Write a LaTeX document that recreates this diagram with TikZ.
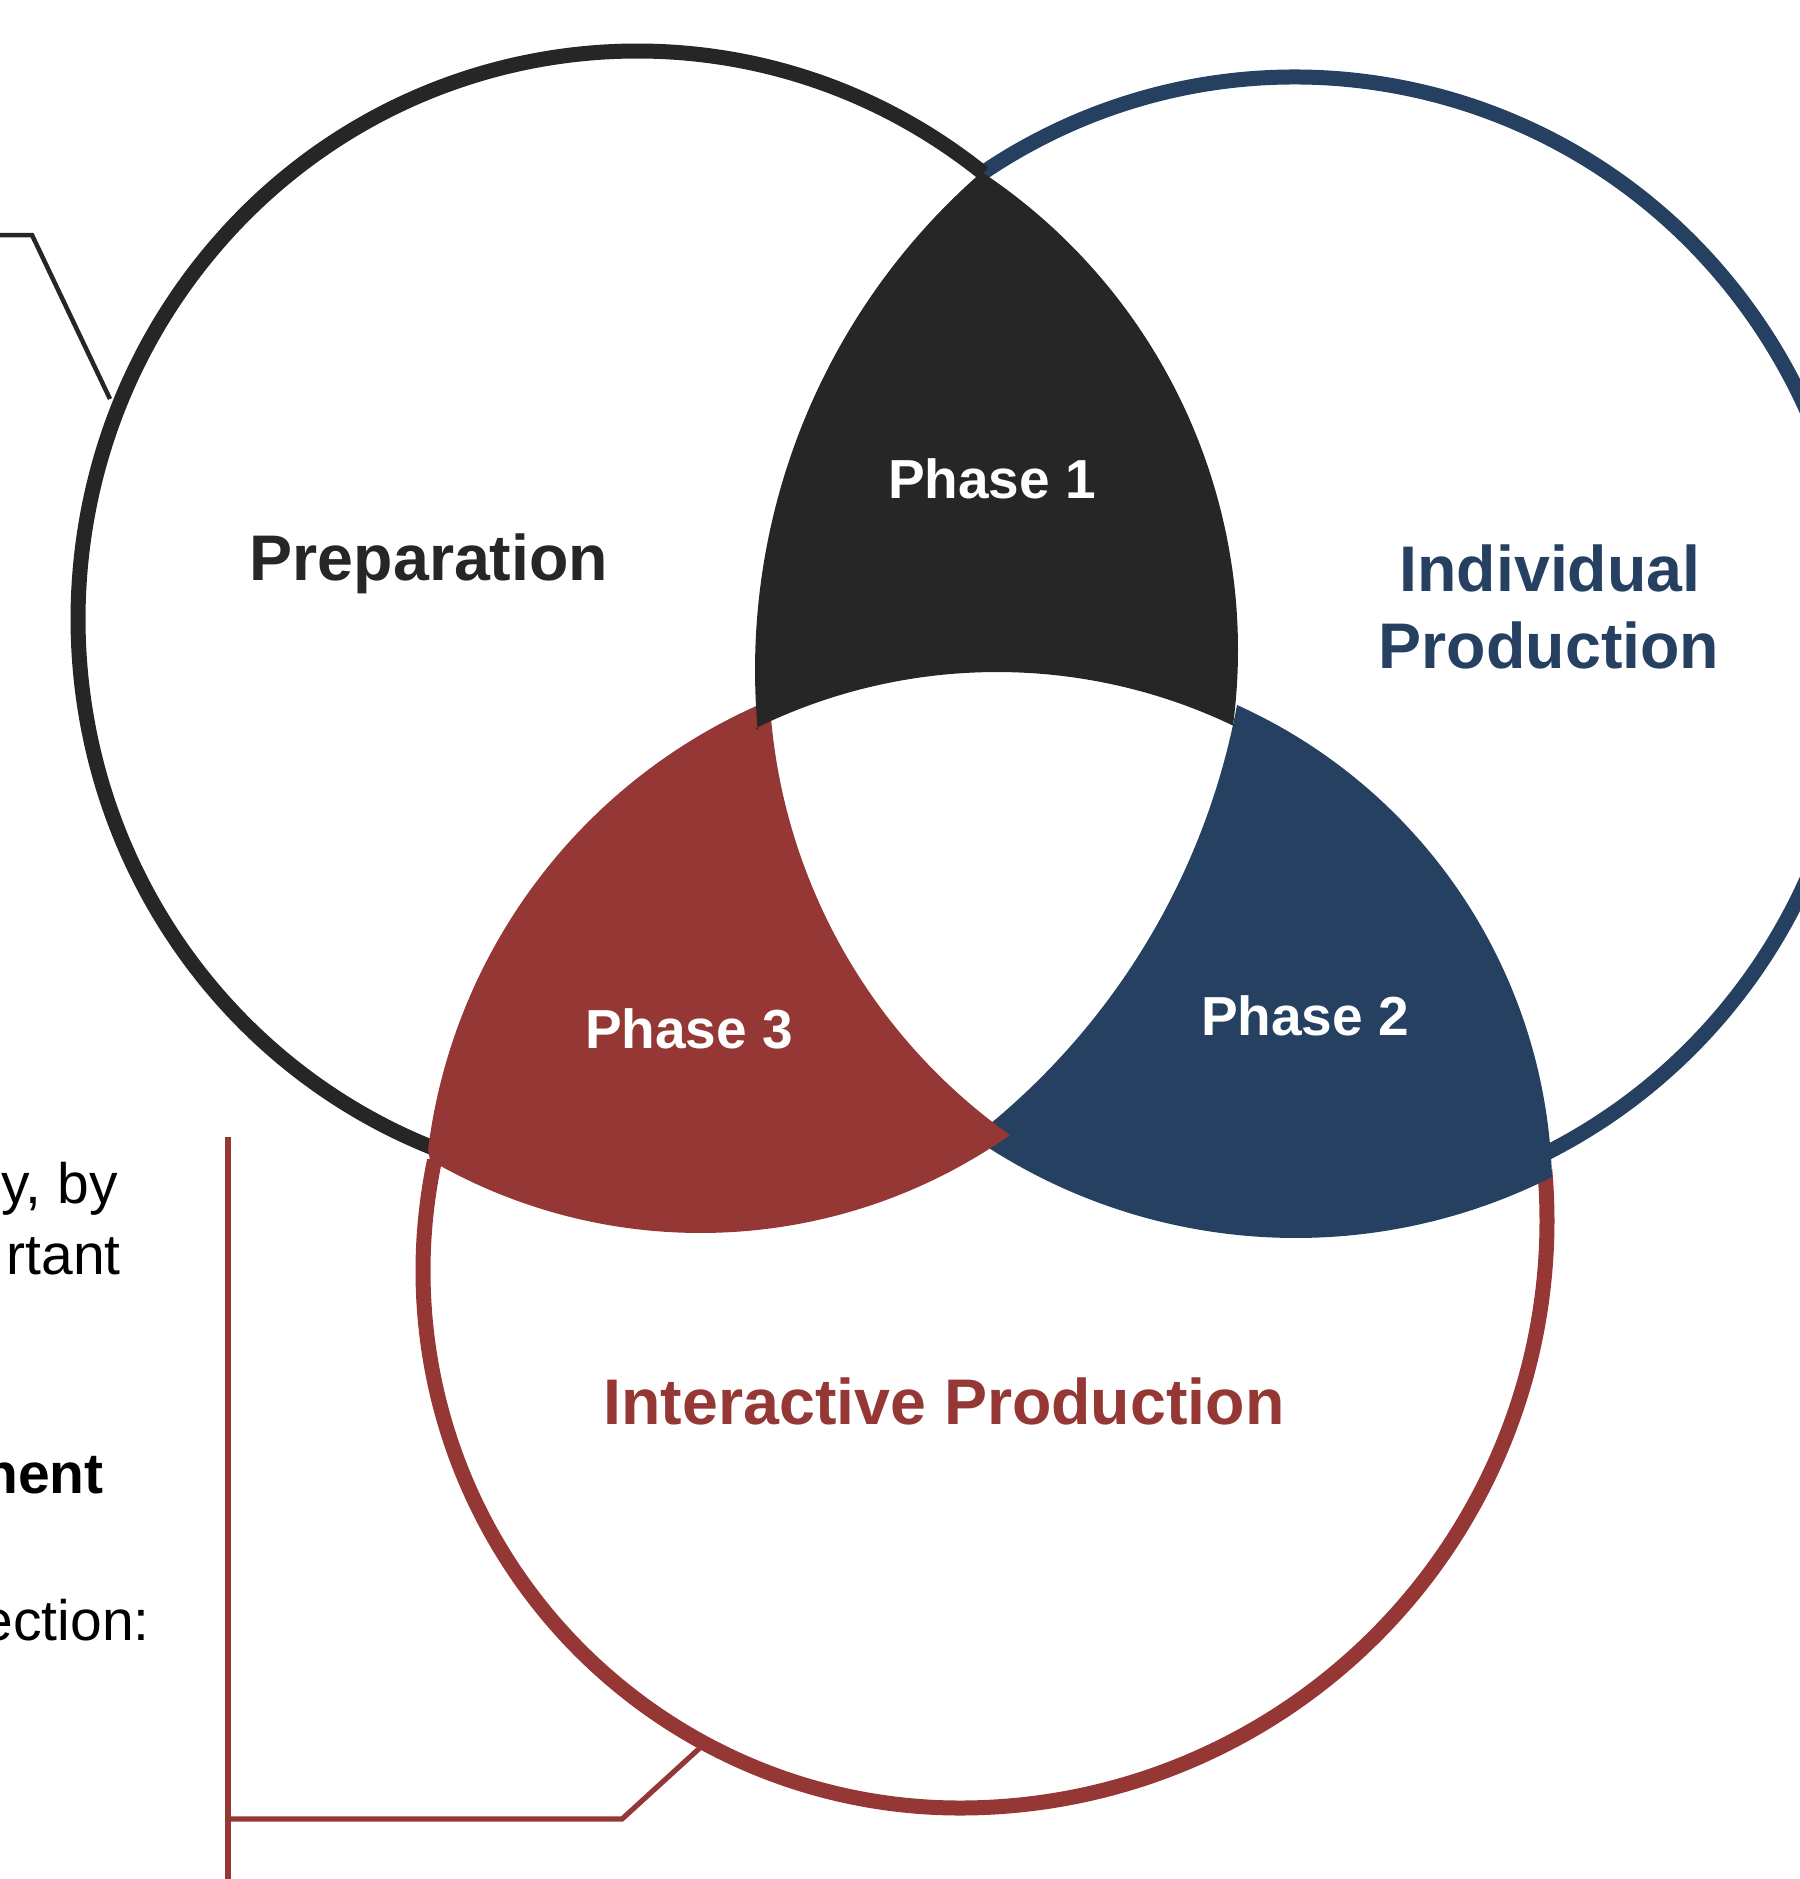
\documentclass[tikz,border=0pt]{standalone}
\usepackage{fontspec}
\setmainfont{Liberation Sans}
\usetikzlibrary{calc}
\definecolor{prepc}{HTML}{262626}
\definecolor{indc}{HTML}{254061}
\definecolor{intc}{HTML}{953735}
\begin{document}
\begin{tikzpicture}[x=0.5pt,y=-0.5pt,
  ring/.style={line width=7.5pt},
  lbl/.style={font=\fontsize{32.25pt}{38pt}\selectfont\bfseries, inner sep=0pt, anchor=base},
  phaselbl/.style={font=\fontsize{27.5pt}{33pt}\selectfont\bfseries, text=white, inner sep=0pt, anchor=base},
  sidetxt/.style={font=\fontsize{28.5pt}{34pt}\selectfont, inner sep=0pt, anchor=base east},
  callout/.style={line width=2.25pt, line join=miter}
]
\useasboundingbox (0,0) rectangle (1799,1879);

% centres of the outline rings
\coordinate (bc) at (637,619);
\coordinate (uc) at (1295,645);
\coordinate (rcl) at (960,1271);

% outline arcs
\draw[ring, indc] (uc) ++(-124.3:562 and 568) arc[start angle=-124.3, end angle=63.7, x radius=562, y radius=568];
\draw[ring, prepc] (bc) ++(-51.7:559 and 568) arc[start angle=-51.7, end angle=-249, x radius=559, y radius=568];
\draw[ring, intc] (rcl) ++(191.9:537) arc[start angle=191.9, end angle=90, radius=537]
  arc[start angle=90, end angle=-5, radius=587];

% centres of the region boundaries
\coordinate (p2U) at (536.8,574.4);
\coordinate (p2B) at (1295.8,669.5);
\coordinate (p2R) at (1017.4,1192.6);
\coordinate (p3U) at (986.5,1219.5);
\coordinate (p3B) at (700.5,695.3);
\coordinate (p3R) at (1341.2,668.2);
\coordinate (p1L) at (1415,670);
\coordinate (p1B) at (997,1218.7);
\coordinate (p1R) at (664,650);

% Phase 2 region
\fill[indc] (p2U) ++(10.57:712.3) arc[start angle=10.57, end angle=51.0, radius=712.3]
  -- ($(p2B)+(123.1:568.5)$) arc[start angle=123.1, end angle=63.2, radius=568.5]
  -- ($(p2R)+(-1.67:534.8)$) arc[start angle=-1.67, end angle=-65.76, radius=534.8] -- cycle;

% Phase 3 region
\fill[intc] (p3U) ++(-112.6:562.8) arc[start angle=-112.6, end angle=-172.9, radius=562.8]
  -- ($(p3B)+(120.2:537.7)$) arc[start angle=120.2, end angle=54.9, radius=537.7]
  -- ($(p3R)+(125.4:572.4)$) arc[start angle=125.4, end angle=176.3, radius=572.4] -- cycle;

% Phase 1 region
\fill[prepc] (p1L) ++(-131:660) arc[start angle=-131, end angle=-185.2, radius=660]
  -- ($(p1B)+(-116.2:546.7)$) arc[start angle=-116.2, end angle=-64.1, radius=546.7]
  -- ($(p1R)+(7.5:574)$) arc[start angle=7.5, end angle=-56.4, radius=574] -- cycle;

% labels
\node[lbl, text=prepc] (prep) at (429,580) {Preparation};
\node[lbl, text=indc] (ind1) at (1550,591) {Individual};
\node[lbl, text=indc] (ind2) at (1549,668) {Production};
\node[lbl, text=intc] (inter) at (944,1424) {Interactive Production};
\node[phaselbl] (ph1) at (992,498) {Phase 1};
\node[phaselbl] (ph3) at (689,1048) {Phase 3};
\node[phaselbl] (ph2) at (1305,1035) {Phase 2};

% cut-off side text
\node[sidetxt] (t1) at (118,1203) {y, by};
\node[sidetxt] (t2) at (121,1274) {rtant};
\node[sidetxt, font=\fontsize{28.5pt}{34pt}\selectfont\bfseries] (t3) at (104,1493) {nent};
\node[sidetxt] (t4) at (150,1640) {ection:};

% callout connectors
\coordinate (bk0) at (0,235);
\coordinate (bk1) at (32,235);
\coordinate (bk2) at (110,399);
\draw[callout, prepc] (bk0) -- (bk1) -- (bk2);

\coordinate (rd0) at (228,1137);
\coordinate (rd1) at (228,1879);
\coordinate (rd2) at (228,1819);
\coordinate (rd3) at (622,1819);
\coordinate (rd4) at (702,1746);
\draw[intc, line width=2.75pt] (rd0) -- (rd1);
\draw[callout, intc, line width=2.6pt] (rd2) -- (rd3) -- (rd4);
\end{tikzpicture}
\end{document}
